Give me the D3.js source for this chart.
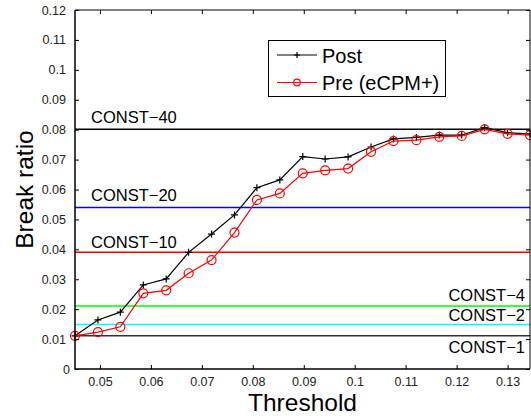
<!DOCTYPE html>
<html>
<head>
<meta charset="utf-8">
<script src="https://cdn.jsdelivr.net/npm/d3@7"></script>
<style>
  body { margin: 0; background: #fff; }
  svg { display: block; font-family: "Liberation Sans", Arial, Helvetica, sans-serif; }
</style>
</head>
<body>
<div id="chart"></div>
<script>
// thresholds (x) and break ratios
var thresholds = [0.0451, 0.0496, 0.0540, 0.0585, 0.0630, 0.0674, 0.0719, 0.0764, 0.0808, 0.0853, 0.0898,
                  0.0942, 0.0987, 0.1032, 0.1076, 0.1121, 0.1166, 0.1210, 0.1255, 0.1300, 0.1344];
var postValues = [0.0111, 0.0164, 0.0190, 0.0281, 0.0301, 0.0390, 0.0451, 0.0515, 0.0606, 0.0632, 0.0710,
                  0.0702, 0.0709, 0.0742, 0.0769, 0.0774, 0.0782, 0.0782, 0.0807, 0.0790, 0.0785];
var preValues  = [0.0111, 0.0123, 0.0141, 0.0253, 0.0263, 0.0320, 0.0364, 0.0456, 0.0565, 0.0587, 0.0654,
                  0.0664, 0.0670, 0.0726, 0.0762, 0.0765, 0.0776, 0.0779, 0.0801, 0.0786, 0.0782];

// constant baselines
var constNames  = ["CONST\u221240", "CONST\u221220", "CONST\u221210", "CONST\u22124", "CONST\u22122", "CONST\u22121"];
var constValues = [0.0801, 0.0540, 0.0390, 0.0211, 0.0149, 0.0111];

var xTicks = [0.05, 0.06, 0.07, 0.08, 0.09, 0.10, 0.11, 0.12, 0.13];
var yTicks = [0, 0.01, 0.02, 0.03, 0.04, 0.05, 0.06, 0.07, 0.08, 0.09, 0.10, 0.11, 0.12];

function main() {
    var W = 531, H = 418;
    var left = 75, right = 530, top = 10, bottom = 369;

    var svg = d3.select("#chart").append("svg")
        .attr("width", W)
        .attr("height", H);

    var x = d3.scaleLinear().domain([0.0451, 0.1344]).range([left, right]);
    var y = d3.scaleLinear().domain([0, 0.12]).range([bottom, top]);

    var fmt = function (d) { return d === 0 ? "0" : d3.format("")(+d.toFixed(2)); };

    // constant lines (colour and label placement per name)
    var constStyle = {
        "CONST\u221240": {color: "#000000", side: "left", dy: -6},
        "CONST\u221220": {color: "#0000ff", side: "left", dy: -6},
        "CONST\u221210": {color: "#ff0000", side: "left", dy: -4},
        "CONST\u22124":  {color: "#00ff00", side: "right", dy: -4.5},
        "CONST\u22122":  {color: "#00ffff", side: "right", dy: -3.5},
        "CONST\u22121":  {color: "#333333", side: "right", dy: 17}
    };
    var consts = constNames.map(function (n, i) { return {name: n, value: constValues[i]}; });

    svg.append("g").selectAll("line")
        .data(consts)
        .join("line")
        .attr("x1", left)
        .attr("x2", right)
        .attr("y1", d => y(d.value))
        .attr("y2", d => y(d.value))
        .attr("stroke", d => constStyle[d.name].color)
        .attr("stroke-width", 1.5);

    svg.append("g").selectAll("text")
        .data(consts)
        .join("text")
        .attr("x", d => constStyle[d.name].side === "left" ? 91 : 525)
        .attr("y", d => y(d.value) + constStyle[d.name].dy)
        .attr("text-anchor", d => constStyle[d.name].side === "left" ? "start" : "end")
        .attr("font-size", "16.5px")
        .attr("fill", "#000")
        .text(d => d.name);

    // series
    var post = thresholds.map(function (t, i) { return {x: t, y: postValues[i]}; });
    var pre = thresholds.map(function (t, i) { return {x: t, y: preValues[i]}; });

    var line = d3.line().x(d => x(d.x)).y(d => y(d.y));

    svg.append("path")
        .datum(post)
        .attr("d", line)
        .attr("fill", "none")
        .attr("stroke", "#000")
        .attr("stroke-width", 1.2);

    svg.append("g").selectAll("path")
        .data(post)
        .join("path")
        .attr("d", d => "M" + (x(d.x) - 3.5) + "," + y(d.y) + "h7M" + x(d.x) + "," + (y(d.y) - 3.5) + "v7")
        .attr("stroke", "#000")
        .attr("stroke-width", 1.2);

    svg.append("path")
        .datum(pre)
        .attr("d", line)
        .attr("fill", "none")
        .attr("stroke", "#ff0000")
        .attr("stroke-width", 1.2);

    svg.append("g").selectAll("circle")
        .data(pre)
        .join("circle")
        .attr("cx", d => x(d.x))
        .attr("cy", d => y(d.y))
        .attr("r", 4.5)
        .attr("fill", "none")
        .attr("stroke", "#ff0000")
        .attr("stroke-width", 1.2);

    // axes (ticks inward, mirrored on top and right)
    svg.append("g")
        .attr("transform", "translate(0," + bottom + ")")
        .call(d3.axisBottom(x).tickValues(xTicks).tickSize(-4).tickPadding(8).tickFormat(fmt));
    svg.append("g")
        .attr("transform", "translate(0," + top + ")")
        .call(d3.axisTop(x).tickValues(xTicks).tickSize(-4).tickFormat(""));
    var yAxis = svg.append("g")
        .attr("transform", "translate(" + left + ",0)")
        .call(d3.axisLeft(y).tickValues(yTicks).tickSize(-4).tickPadding(9).tickFormat(fmt));
    svg.append("g")
        .attr("transform", "translate(" + right + ",0)")
        .call(d3.axisRight(y).tickValues(yTicks).tickSize(-4).tickFormat(""));

    svg.selectAll(".domain").remove();
    svg.selectAll(".tick line").attr("stroke", "#000").attr("stroke-width", 1);
    svg.selectAll(".tick text")
        .attr("font-family", "Liberation Sans, Arial, sans-serif")
        .attr("font-size", "12.5px")
        .attr("fill", "#222");
    yAxis.selectAll(".tick text").filter(d => d === 0).attr("dx", 4);

    // left and bottom border
    svg.append("path")
        .attr("d", "M" + left + "," + top + "V" + bottom + "H" + right)
        .attr("fill", "none")
        .attr("stroke", "#000")
        .attr("stroke-width", 1.5);
    svg.append("path")
        .attr("d", "M" + left + "," + top + "H" + right + "V" + bottom)
        .attr("fill", "none")
        .attr("stroke", "#000")
        .attr("stroke-width", 1);

    // axis titles
    svg.append("text")
        .attr("x", (left + right) / 2)
        .attr("y", 411)
        .attr("text-anchor", "middle")
        .attr("font-size", "24.5px")
        .text("Threshold");
    svg.append("text")
        .attr("transform", "translate(32.5," + (top + bottom) / 2 + ") rotate(-90)")
        .attr("text-anchor", "middle")
        .attr("font-size", "24.5px")
        .text("Break ratio");

    // legend
    var legend = svg.append("g");
    legend.append("rect")
        .attr("x", 268.5).attr("y", 40.5)
        .attr("width", 177).attr("height", 56)
        .attr("fill", "#fff")
        .attr("stroke", "#000")
        .attr("stroke-width", 1);
    var rows = [{label: "Post", color: "#000", y: 55}, {label: "Pre (eCPM+)", color: "#ff0000", y: 82.5}];
    rows.forEach(function (r, i) {
        legend.append("line")
            .attr("x1", 277).attr("x2", 317)
            .attr("y1", r.y).attr("y2", r.y)
            .attr("stroke", r.color).attr("stroke-width", 1.2);
        if (i === 0) {
            legend.append("path")
                .attr("d", "M294,55h6M297,52v6")
                .attr("stroke", r.color).attr("stroke-width", 1.2);
        } else {
            legend.append("circle")
                .attr("cx", 297).attr("cy", r.y).attr("r", 3.3)
                .attr("fill", "none").attr("stroke", r.color).attr("stroke-width", 1.2);
        }
        legend.append("text")
            .attr("x", 322)
            .attr("y", r.y + 7.5)
            .attr("font-size", "20px")
            .text(r.label);
    });
}

main();
</script>
</body>
</html>
